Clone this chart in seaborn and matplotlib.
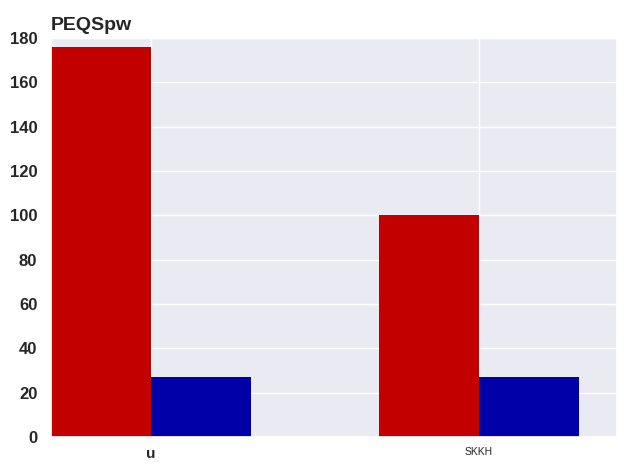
import matplotlib
matplotlib.use("Agg")
import matplotlib.pyplot as plt
import seaborn as sns
import pandas as pd

categories = ["u", "SKKH"]
series_names = ["A", "B"]
red_values = [176, 100]
blue_values = [27, 27]
colors = ["#c20000", "#0000a8"]

df = pd.DataFrame({
    "cat": categories * 2,
    "series": [series_names[0]] * 2 + [series_names[1]] * 2,
    "value": red_values + blue_values,
})

sns.set_theme(style="darkgrid")
plt.rcParams['font.family'] = ['Liberation Sans', 'DejaVu Sans']

fig, ax = plt.subplots(figsize=(6.32, 4.74), dpi=100)
sns.barplot(data=df, x="cat", y="value", hue="series", palette=colors,
            width=0.61, gap=0, saturation=1, legend=False, ax=ax, errorbar=None)
for p in ax.patches:
    p.set_edgecolor("none")
    p.set_linewidth(0)

ax.grid(True, axis="both", color="white")
ax.set_axisbelow(True)
ax.set_xlim(-0.305, 1.42)
ax.set_ylim(0, 180)
ax.set_yticks(range(0, 181, 20))
ax.set_xlabel("")
ax.set_ylabel("")
ax.set_title("PEQSpw", loc="left", fontsize=14, fontweight="bold", pad=6)
for lbl in ax.get_yticklabels():
    lbl.set_fontweight("bold")
    lbl.set_fontsize(12)
xl = ax.get_xticklabels()
xl[0].set_fontweight("bold")
xl[0].set_fontsize(11)
xl[1].set_fontsize(7.5)
ax.tick_params(axis="x", pad=1)
ax.tick_params(axis="y", pad=4)

fig.subplots_adjust(left=0.081, right=0.976, top=0.92, bottom=0.078)
fig.savefig("out.png", dpi=100)
